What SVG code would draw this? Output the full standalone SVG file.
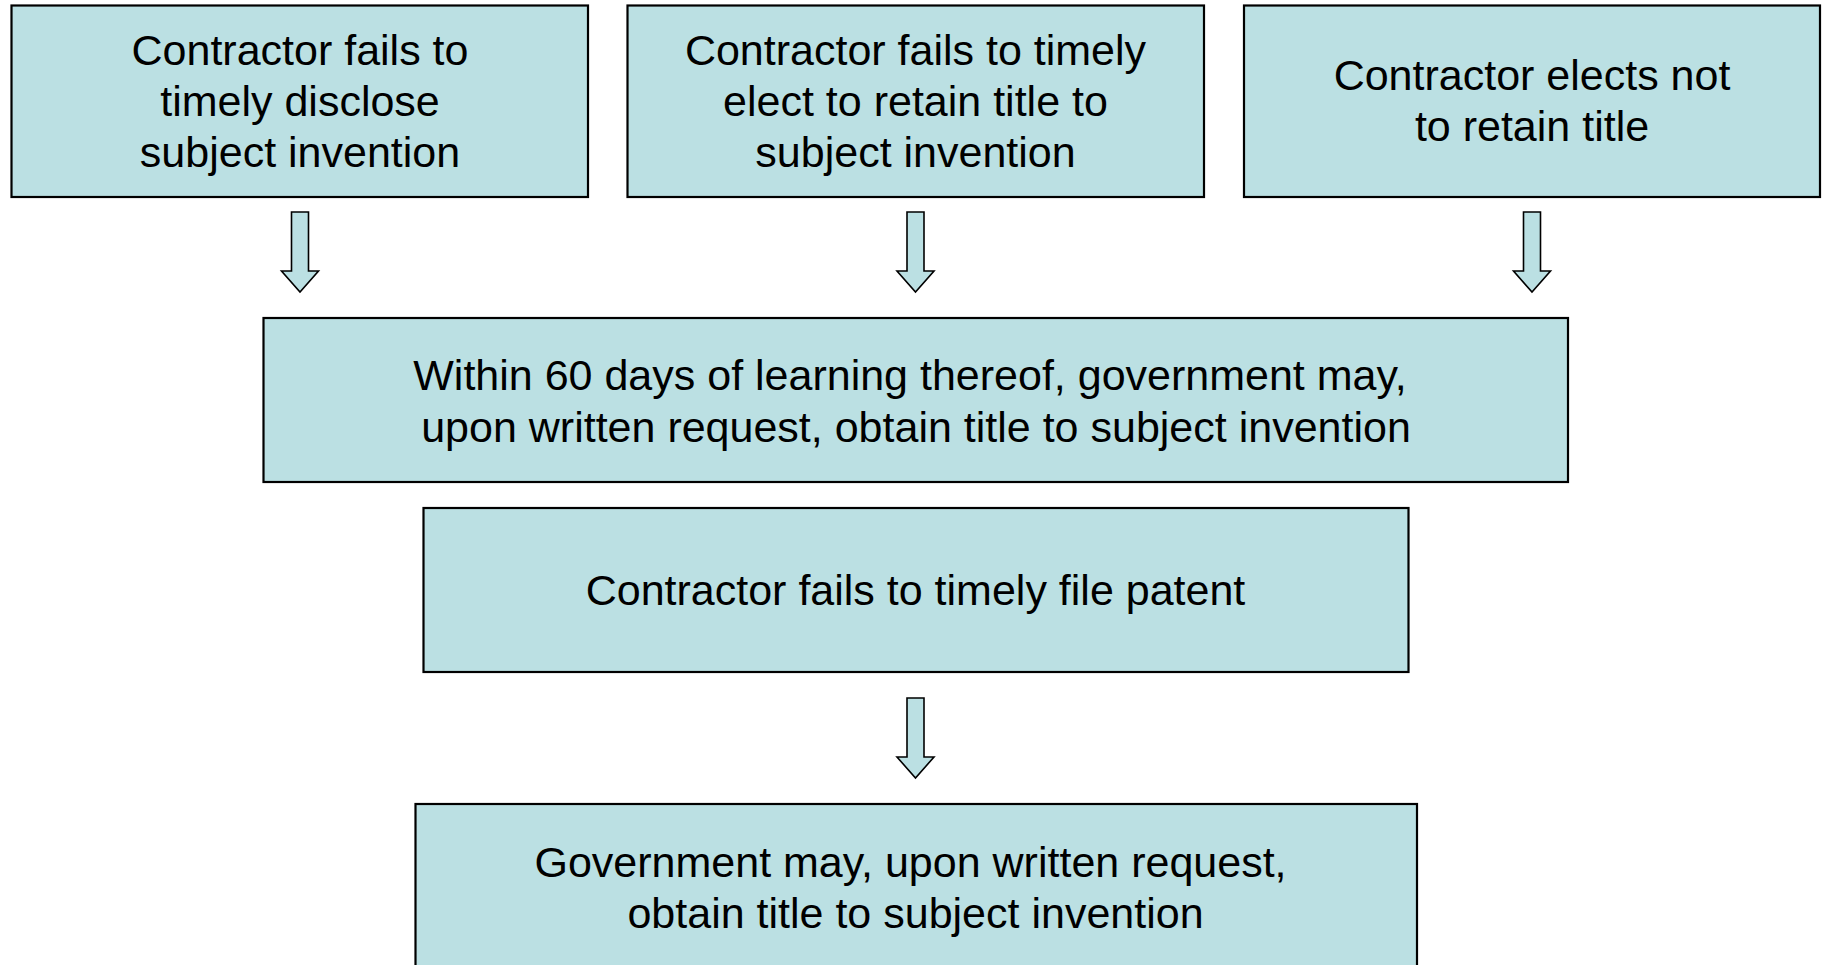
<svg xmlns="http://www.w3.org/2000/svg" width="1822" height="965" viewBox="0 0 1822 965">
<style>
.box{fill:#BBE0E3;stroke:#000;stroke-width:2.2}
.arr{fill:#BBE0E3;stroke:#000;stroke-width:1.6;stroke-linejoin:miter}
text{font-family:"Liberation Sans",Arial,sans-serif;font-size:43px;fill:#000;text-anchor:middle}
</style>
<defs>
<path id="blk" d="M-8.5,0 H8.5 V59 H18.5 L0,80 L-18.5,59 H-8.5 Z"/>
</defs>
<rect width="1822" height="965" fill="#fff"/>
<g id="n1">
<rect class="box" x="11.5" y="5.5" width="576.5" height="191.5"/>
<text x="300" y="65">Contractor fails to</text>
<text x="300" y="116">timely disclose</text>
<text x="300" y="167">subject invention</text>
</g>
<g id="n2">
<rect class="box" x="627.5" y="5.5" width="576.5" height="191.5"/>
<text x="915.5" y="65">Contractor fails to timely</text>
<text x="915.5" y="116">elect to retain title to</text>
<text x="915.5" y="167">subject invention</text>
</g>
<g id="n3">
<rect class="box" x="1244" y="5.5" width="576" height="191.5"/>
<text x="1532" y="90">Contractor elects not</text>
<text x="1532" y="141">to retain title</text>
</g>
<g id="n4">
<rect class="box" x="263.5" y="318" width="1304.5" height="164"/>
<text x="910" y="390">Within 60 days of learning thereof, government may,</text>
<text x="916" y="442">upon written request, obtain title to subject invention</text>
</g>
<g id="n5">
<rect class="box" x="423.5" y="508" width="985" height="164"/>
<text x="915.5" y="605">Contractor fails to timely file patent</text>
</g>
<g id="n6">
<rect class="box" x="415.5" y="804" width="1001.5" height="180"/>
<text x="910.5" y="877">Government may, upon written request,</text>
<text x="915.5" y="928">obtain title to subject invention</text>
</g>
<g id="connectors">
<use href="#blk" class="arr" transform="translate(300,212)"/>
<use href="#blk" class="arr" transform="translate(915.5,212)"/>
<use href="#blk" class="arr" transform="translate(1532,212)"/>
<use href="#blk" class="arr" transform="translate(915.5,698)"/>
</g>
</svg>
